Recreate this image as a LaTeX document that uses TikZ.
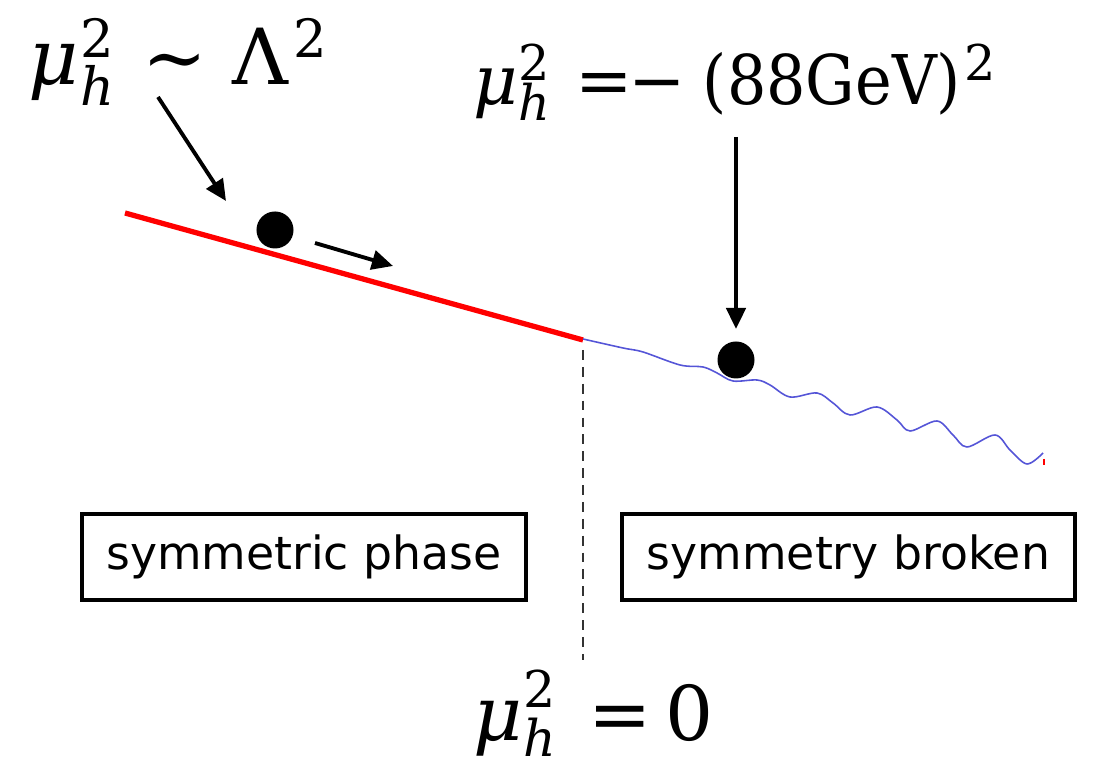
\documentclass[tikz,border=0pt]{standalone}
\usepackage{fontspec}
\usepackage{graphicx}
\setmainfont{DejaVu Serif}
\newfontfamily\boxfont{DejaVu Sans}
\usetikzlibrary{arrows.meta}
% #1 script size, #2 raise of the 2, #3 drop of the h
\newcommand{\muhsq}[3]{\makebox[0pt][l]{\raisebox{#2}{\fontsize{#1}{#1}\selectfont 2}}\raisebox{-#3}{\fontsize{#1}{#1}\selectfont\itshape h}}
\newcommand{\supscr}[2]{\raisebox{#2}{\fontsize{#1}{#1}\selectfont 2}}
\tikzset{
  mathlabel/.style={inner sep=0pt, anchor=base west},
  phasebox/.style={draw=black, line width=1.1pt, minimum width=4.44cm, minimum height=0.86cm, font=\boxfont\fontsize{13pt}{15pt}\selectfont, inner sep=0pt},
  pointer/.style={line width=1.1pt, -{Triangle[length=6pt,width=5.5pt]}},
  ball/.style={circle, fill=black, minimum size=0.37cm, inner sep=0pt}
}
\begin{document}
\begin{tikzpicture}[x=0.01cm,y=-0.01cm]
\useasboundingbox (0,0) rectangle (1094,762);
% slope
\coordinate (s0) at (125,213);
\coordinate (s1) at (583,340);
\draw[red, line width=1.5pt] (s0) -- (s1);
\definecolor{wavy}{RGB}{85,85,215}
\draw[wavy, line width=0.45pt] plot[smooth, tension=0.55] coordinates {
 (583,339) (623,348) (643,352) (680,365) (703,367) (717,373) (733,381) (757,380) (770,385) (790,397) (817,393) (833,403) (850,415) (877,407) (897,420) (910,431) (937,421) (953,435) (967,447) (995,435) (1010,450) (1027,464) (1043,453)};
\draw[red, line width=0.6pt] (1044,459) -- (1044,465);
% balls
\node[ball] (b1) at (275,230) {};
\node[ball] (b2) at (736,360) {};
% labels
\node[mathlabel, font=\fontsize{22pt}{24pt}\selectfont] (l1) at (28,85)
 {\makebox[0.52cm][l]{\itshape μ}\makebox[0.62cm][l]{\muhsq{15pt}{7.7pt}{5.7pt}}\makebox[0.9cm][l]{∼}\makebox[0.61cm][l]{Λ}\supscr{15pt}{7.7pt}};
\node[mathlabel, font=\fontsize{19.5pt}{22pt}\selectfont] (l2) at (473,105)
 {\makebox[0.45cm][l]{\itshape μ}\makebox[0.57cm][l]{\muhsq{14pt}{7pt}{4.3pt}}\makebox[0.53cm][l]{=}\makebox[0.74cm][l]{−}\makebox[2.62cm][l]{\resizebox{2.58cm}{\height}{(88GeV)}}\supscr{14pt}{7pt}};
\node[mathlabel, font=\fontsize{21.5pt}{24pt}\selectfont] (l3) at (473,741)
 {\makebox[0.50cm][l]{\itshape μ}\makebox[0.65cm][l]{\muhsq{14.4pt}{9.4pt}{4.3pt}}\makebox[0.77cm][l]{=}0};
% arrows
\coordinate (a1s) at (158,97);
\coordinate (a1e) at (226,201);
\draw[pointer] (a1s) -- (a1e);
\coordinate (a2s) at (315,243);
\coordinate (a2e) at (393,266);
\draw[pointer] (a2s) -- (a2e);
\coordinate (a3s) at (736,137);
\coordinate (a3e) at (736,329);
\draw[pointer] (a3s) -- (a3e);
% dashed
\coordinate (d0) at (583,350);
\coordinate (d1) at (583,660);
\draw[line width=0.6pt, black!80, dash pattern=on 2.8pt off 2pt] (d0) -- (d1);
% boxes
\node[phasebox] (p1) at (304,557) {symmetric phase};
\node[phasebox, minimum width=4.53cm] (p2) at (848.5,557) {symmetry broken};
\end{tikzpicture}
\end{document}
